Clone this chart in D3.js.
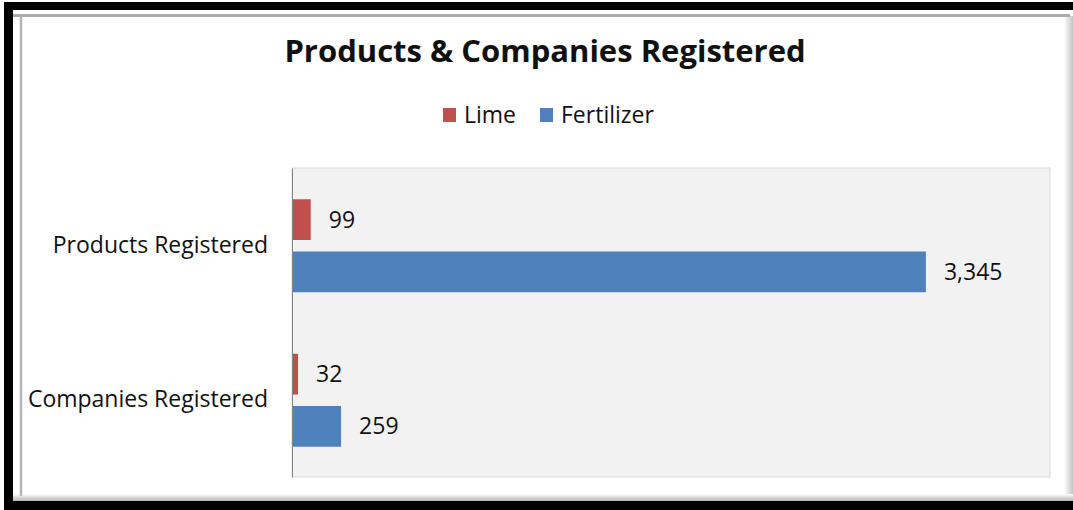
<!DOCTYPE html>
<html>
<head>
<meta charset="utf-8">
<script src="https://cdn.jsdelivr.net/npm/d3@7"></script>
<style>
  html, body { margin: 0; background: #fff; overflow: hidden; }
  svg { display: block; }
  svg text { font-family: "Open Sans", "Noto Sans", sans-serif; fill: #111; }
</style>
</head>
<body>
<svg id="chart" width="1073" height="510"></svg>
<script>
// chart data
var categories = ["Products Registered", "Companies Registered"];
var seriesNames = ["Lime", "Fertilizer"];
var limeValues = [99, 32];
var fertilizerValues = [3345, 259];
var xTicks = [0, 4000];

var colors = { "Lime": "#c0504d", "Fertilizer": "#4f81bd" };

var svg = d3.select("#chart");

var defs = svg.append("defs");
var g1 = defs.append("linearGradient").attr("id", "shadeR");
g1.append("stop").attr("offset", "0%").attr("stop-color", "#ffffff");
g1.append("stop").attr("offset", "100%").attr("stop-color", "#c4c4c4");
var g2 = defs.append("linearGradient").attr("id", "shadeB")
  .attr("x1", 0).attr("y1", 0).attr("x2", 0).attr("y2", 1);
g2.append("stop").attr("offset", "0%").attr("stop-color", "#ffffff");
g2.append("stop").attr("offset", "100%").attr("stop-color", "#b5b5b5");

// outer black frame + shadowed inner frame
svg.append("rect").attr("x", 4).attr("y", 2).attr("width", 1080).attr("height", 508)
  .attr("fill", "#000");
svg.append("rect").attr("x", 13).attr("y", 10).attr("width", 1070).attr("height", 491)
  .attr("fill", "#fff");
svg.append("rect").attr("x", 1064).attr("y", 16).attr("width", 9).attr("height", 485)
  .attr("fill", "url(#shadeR)");
svg.append("rect").attr("x", 13).attr("y", 494).attr("width", 1060).attr("height", 7)
  .attr("fill", "url(#shadeB)");
svg.append("line").attr("x1", 13).attr("x2", 1070).attr("y1", 15.5).attr("y2", 15.5)
  .attr("stroke", "#aaa").attr("stroke-width", 3);
svg.append("line").attr("x1", 21).attr("x2", 21).attr("y1", 16).attr("y2", 496)
  .attr("stroke", "#b5b5b5").attr("stroke-width", 2.5);

var margin = { left: 292, top: 168, right: 1050, bottom: 477 };

var x = d3.scaleLinear().domain(d3.extent(xTicks)).range([margin.left, margin.right]);
var y0 = d3.scaleBand().domain(categories).range([margin.top, margin.bottom]).paddingInner(0).paddingOuter(0);
var y1 = d3.scaleBand().domain(seriesNames).range([0, 93]).paddingInner(0.22);

// plot area
svg.append("rect")
  .attr("x", margin.left).attr("y", margin.top)
  .attr("width", margin.right - margin.left).attr("height", margin.bottom - margin.top)
  .attr("fill", "#f2f2f2").attr("stroke", "#d9d9d9");

var rows = categories.map(function(c, i) {
  return { cat: c, values: [
    { name: "Lime", v: limeValues[i] },
    { name: "Fertilizer", v: fertilizerValues[i] }
  ]};
});

var groups = svg.selectAll("g.cat")
  .data(rows)
  .enter().append("g")
  .attr("class", "cat")
  .attr("transform", function(d) {
    return "translate(0," + (y0(d.cat) + y0.bandwidth() / 2 - 46) + ")";
  });

groups.selectAll("rect")
  .data(function(d) { return d.values; })
  .enter().append("rect")
  .attr("x", x(0))
  .attr("y", function(d) { return y1(d.name); })
  .attr("width", function(d) { return x(d.v) - x(0); })
  .attr("height", y1.bandwidth())
  .attr("fill", function(d) { return colors[d.name]; });

groups.selectAll("text.val")
  .data(function(d) { return d.values; })
  .enter().append("text")
  .attr("class", "val")
  .attr("x", function(d) { return x(d.v) + 18; })
  .attr("y", function(d) { return y1(d.name) + y1.bandwidth() / 2; })
  .attr("dy", "0.35em")
  .style("font-size", "23px")
  .text(function(d) { return d3.format(",")(d.v); });

// category axis
var yAxis = d3.axisLeft(y0).tickSize(0).tickPadding(24);
var ax = svg.append("g").attr("transform", "translate(" + margin.left + ",0)").call(yAxis);
ax.select(".domain").attr("stroke", "#868686");
ax.selectAll("text").style("font-size", "23px").attr("fill", "#111")
  .style("font-family", "Open Sans");

// title
svg.append("text")
  .attr("x", 545).attr("y", 62)
  .attr("text-anchor", "middle")
  .style("font-size", "31px").style("font-weight", "bold")
  .text("Products & Companies Registered");

// legend
var legend = svg.selectAll("g.leg")
  .data(seriesNames)
  .enter().append("g")
  .attr("class", "leg")
  .attr("transform", function(d, i) { return "translate(" + (443 + i * 97) + ",108)"; });
legend.append("rect").attr("width", 13).attr("height", 14)
  .attr("fill", function(d) { return colors[d]; });
legend.append("text").attr("x", 21).attr("y", 7).attr("dy", "0.35em")
  .style("font-size", "23px").text(function(d) { return d; });
</script>
</body>
</html>
